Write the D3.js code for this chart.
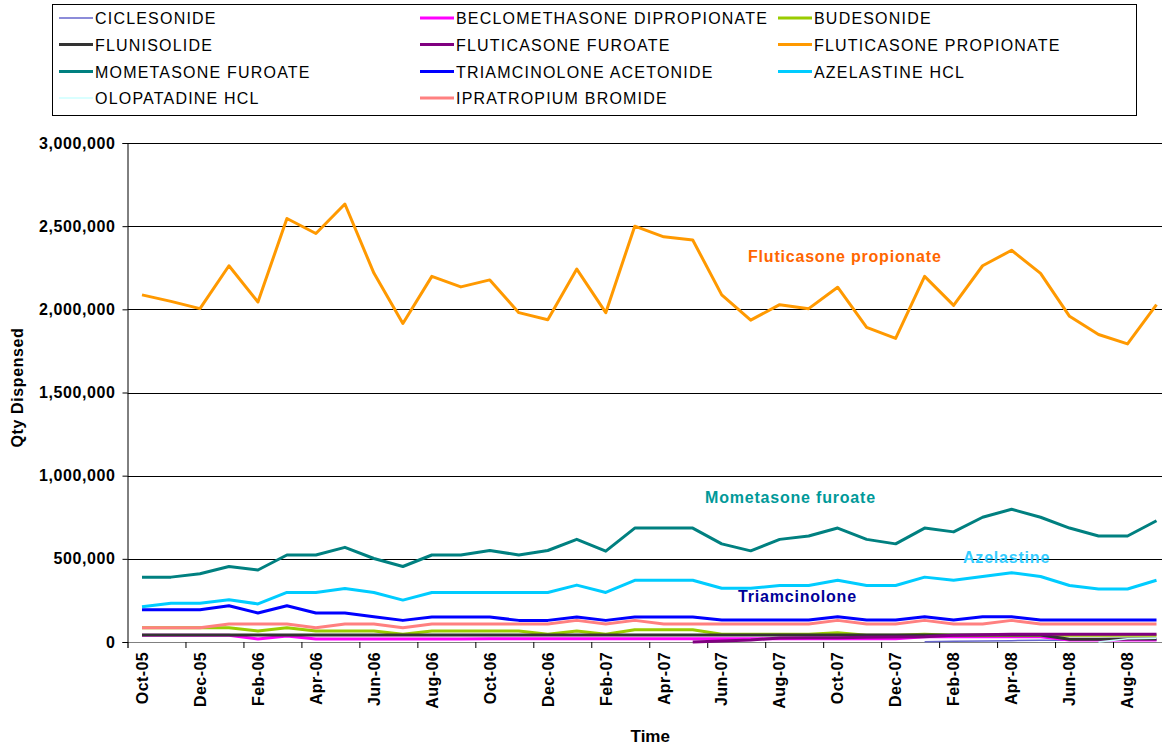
<html>
<head>
<style>
  body { margin: 0; background: #fff; }
  text { font-family: "Liberation Sans", Arial, sans-serif; }
  .legend text { font-size: 16px; letter-spacing: 1.2px; }
  .yaxis text { font-size: 16px; font-weight: bold; letter-spacing: 0.6px; }
  .xlabel { font-size: 16px; font-weight: bold; letter-spacing: 0.4px; }
  .note { font-size: 16px; font-weight: bold; letter-spacing: 0.8px; }
</style>
</head>
<body>
<svg width="1162" height="747"></svg>
<script src="https://d3js.org/d3.v7.min.js"></script>
<script>
// months on the category axis
var months = ["Oct-05","Nov-05","Dec-05","Jan-06","Feb-06","Mar-06","Apr-06","May-06","Jun-06","Jul-06","Aug-06","Sep-06",
              "Oct-06","Nov-06","Dec-06","Jan-07","Feb-07","Mar-07","Apr-07","May-07","Jun-07","Jul-07","Aug-07","Sep-07",
              "Oct-07","Nov-07","Dec-07","Jan-08","Feb-08","Mar-08","Apr-08","May-08","Jun-08","Jul-08","Aug-08","Sep-08"];

var yTicks = [0, 500000, 1000000, 1500000, 2000000, 2500000, 3000000];

// quantities dispensed, in thousands (null = not on market yet)
var ciclesonide = [null,null,null,null,null,null,null,null,null,null,null,null,null,null,null,null,null,null,
                   null,null,null,null,null,null,null,null,null,2,4,6,8,10,10,12,12,12];
var beclomethasone = [40,40,40,40,18,36,18,18,18,18,18,18,20,20,20,20,20,20,
                      20,20,20,20,20,20,20,20,20,32,32,32,32,32,12,12,12,12];
var budesonide = [86,86,86,86,66,86,66,66,66,46,66,66,66,66,46,66,46,74,
                  74,74,46,46,46,46,56,40,40,46,40,40,40,40,40,40,40,40];
var flunisolide = [42,42,42,42,42,42,42,42,42,42,42,42,42,42,42,42,42,42,
                   42,42,42,42,42,42,42,42,42,42,42,42,42,42,16,16,18,18];
var fluticasoneFuroate = [null,null,null,null,null,null,null,null,null,null,null,null,null,null,null,null,null,null,
                          null,0,6,12,24,26,26,28,30,32,40,44,46,46,46,46,46,46];
var fluticasonePropionate = [2087,2048,2004,2262,2044,2546,2456,2633,2218,1915,2198,2135,2177,1980,1937,2242,1980,2500,
                             2436,2417,2087,1935,2028,2004,2133,1891,1825,2198,2024,2262,2355,2216,1958,1849,1792,2028];
var mometasone = [390,390,410,454,433,523,523,569,502,454,523,523,550,523,550,617,546,685,
                  685,685,590,548,617,637,685,617,590,685,662,750,798,750,685,637,637,729];
var triamcinolone = [194,194,194,218,174,218,174,174,152,130,150,150,150,130,130,150,130,150,
                     150,150,132,132,132,132,152,132,132,152,132,152,152,132,132,132,132,132];
var azelastine = [212,233,233,254,229,298,298,321,298,252,298,298,298,298,298,342,298,371,
                  371,371,323,323,340,340,371,340,340,390,371,394,417,394,340,319,319,371];
var olopatadine = [null,null,null,null,null,null,null,null,null,null,null,null,null,null,null,null,null,null,
                   null,null,null,null,null,null,null,null,null,null,null,null,null,null,null,0,20,22];
var ipratropium = [86,86,86,108,108,108,86,108,108,86,108,108,108,108,108,130,108,130,
                   108,108,108,108,108,108,130,108,108,130,108,108,130,108,108,108,108,108];

var series = [
  {name: "CICLESONIDE", values: ciclesonide, color: "#6666CC", w: 1.5},
  {name: "BECLOMETHASONE DIPROPIONATE", values: beclomethasone, color: "#FF00FF", w: 3},
  {name: "BUDESONIDE", values: budesonide, color: "#99CC00", w: 3},
  {name: "FLUNISOLIDE", values: flunisolide, color: "#333333", w: 3},
  {name: "FLUTICASONE FUROATE", values: fluticasoneFuroate, color: "#800080", w: 3},
  {name: "FLUTICASONE PROPIONATE", values: fluticasonePropionate, color: "#FF9900", w: 3},
  {name: "MOMETASONE FUROATE", values: mometasone, color: "#008080", w: 3},
  {name: "TRIAMCINOLONE ACETONIDE", values: triamcinolone, color: "#0000FF", w: 3},
  {name: "AZELASTINE HCL", values: azelastine, color: "#00CCFF", w: 3},
  {name: "OLOPATADINE HCL", values: olopatadine, color: "#CCFFFF", w: 1.5},
  {name: "IPRATROPIUM BROMIDE", values: ipratropium, color: "#FF8080", w: 3}
];

var svg = d3.select("svg");
var plotLeft = 127.5, plotRight = 1171, plotTop = 143, plotBottom = 642;

var x = d3.scaleBand().domain(months).range([plotLeft, plotRight]);
var xEdge = d3.scaleLinear().domain([0, months.length]).range([plotLeft, plotRight]);
var y = d3.scaleLinear().domain([0, 3000000]).range([plotBottom, plotTop]);

// gridlines
svg.append("g")
  .selectAll("line")
  .data(yTicks.slice(1))
  .enter().append("line")
    .attr("x1", plotLeft).attr("x2", plotRight)
    .attr("y1", function(d) { return Math.round(y(d)) + 0.5; })
    .attr("y2", function(d) { return Math.round(y(d)) + 0.5; })
    .attr("stroke", "#000").attr("stroke-width", 1);

// x axis: ticks every two months on category edges
var xAxis = svg.append("g")
  .attr("transform", "translate(0," + plotBottom + ")")
  .call(d3.axisBottom(xEdge)
    .tickValues(d3.range(0, months.length + 1, 2))
    .tickSize(6)
    .tickFormat(""));
xAxis.select(".domain").attr("stroke", "#808080");
xAxis.selectAll(".tick line").attr("stroke", "#000");

svg.append("g")
  .selectAll("text")
  .data(months.filter(function(d, i) { return i % 2 == 0; }))
  .enter().append("text")
    .attr("class", "xlabel")
    .attr("transform", function(d) {
      return "translate(" + (x(d) + x.bandwidth() / 2) + ",652) rotate(-90)";
    })
    .attr("text-anchor", "end")
    .attr("dy", "0.36em")
    .text(function(d) { return d; });

// y axis
var yAxis = svg.append("g")
  .attr("class", "yaxis")
  .attr("transform", "translate(" + plotLeft + ",0)")
  .call(d3.axisLeft(y).tickValues(yTicks).tickSize(5).tickPadding(7).tickFormat(d3.format(",")));
yAxis.select(".domain").attr("stroke", "#000");
yAxis.selectAll("text").attr("fill", "#000");

// lines
var line = d3.line()
  .defined(function(d) { return d != null; })
  .x(function(d, i) { return x(months[i]) + x.bandwidth() / 2; })
  .y(function(d) { return y(d * 1000); });

svg.append("g")
  .selectAll("path")
  .data(series)
  .enter().append("path")
    .attr("fill", "none")
    .attr("stroke", function(d) { return d.color; })
    .attr("stroke-width", function(d) { return d.w; })
    .attr("stroke-linejoin", "round")
    .attr("d", function(d) { return line(d.values); });

// axis titles
svg.append("text")
  .attr("x", (plotLeft + plotRight) / 2 + 1).attr("y", 742)
  .attr("text-anchor", "middle")
  .style("font-size", "17px").style("font-weight", "bold")
  .text("Time");

svg.append("text")
  .attr("transform", "translate(23," + ((plotTop + plotBottom) / 2 - 5) + ") rotate(-90)")
  .attr("text-anchor", "middle")
  .style("font-size", "16px").style("font-weight", "bold").style("letter-spacing", "0.6px")
  .text("Qty Dispensed");

// annotations
var notes = [
  {text: "Fluticasone propionate", x: 748, y: 262, color: "#FF6600"},
  {text: "Mometasone furoate", x: 705, y: 503, color: "#009999"},
  {text: "Triamcinolone", x: 738, y: 602, color: "#000099"},
  {text: "Azelastine", x: 963, y: 563, color: "#33CCFF"}
];
svg.append("g")
  .selectAll("text")
  .data(notes)
  .enter().append("text")
    .attr("class", "note")
    .attr("x", function(d) { return d.x; })
    .attr("y", function(d) { return d.y; })
    .attr("fill", function(d) { return d.color; })
    .text(function(d) { return d.text; });

// legend
var legend = svg.append("g").attr("class", "legend");
legend.append("rect")
  .attr("x", 52.5).attr("y", 4.5).attr("width", 1084).attr("height", 111)
  .attr("fill", "#fff").attr("stroke", "#000");

var colX = [59, 420, 778];
var rowY = [18, 44.5, 71.5, 98];
var item = legend.selectAll(".item")
  .data(series)
  .enter().append("g")
    .attr("class", "item")
    .attr("transform", function(d, i) {
      return "translate(" + colX[i % 3] + "," + rowY[Math.floor(i / 3)] + ")";
    });
item.append("line")
  .attr("x1", 0).attr("x2", 34)
  .attr("stroke", function(d) { return d.color; })
  .attr("stroke-width", function(d) { return d.w; });
item.append("text")
  .attr("x", 36).attr("y", 6)
  .text(function(d) { return d.name; });
</script>
</body>
</html>
